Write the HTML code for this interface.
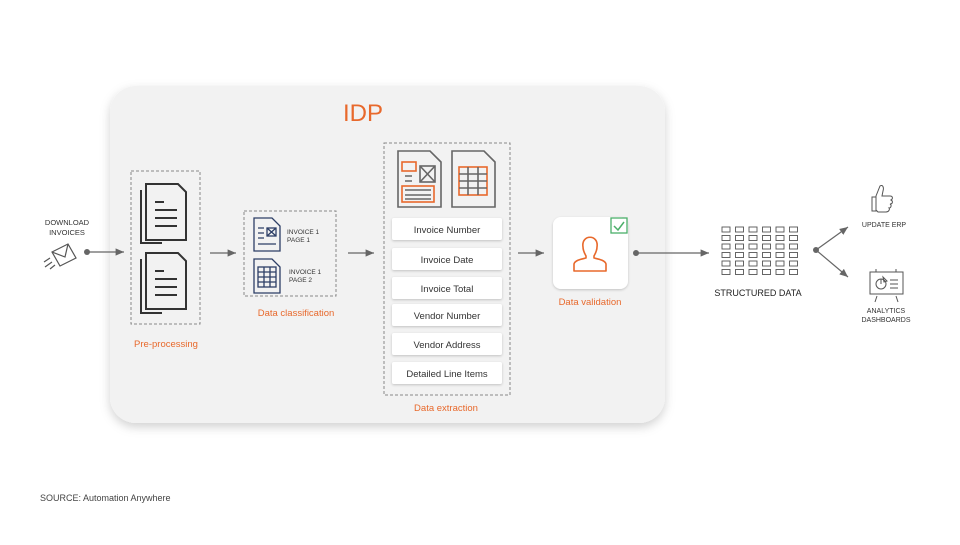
<!DOCTYPE html>
<html><head><style>
body{margin:0;width:960px;height:540px;background:#fff;overflow:hidden;font-family:"Liberation Sans",sans-serif}
</style></head><body>
<svg width="960" height="540" xmlns="http://www.w3.org/2000/svg" font-family="Liberation Sans, sans-serif">
<defs>
<filter id="sh" x="-10%" y="-10%" width="120%" height="130%"><feDropShadow dx="0" dy="4" stdDeviation="5" flood-color="#000" flood-opacity="0.18"/></filter>
<filter id="sh2" x="-10%" y="-20%" width="120%" height="160%"><feDropShadow dx="0" dy="1" stdDeviation="1.2" flood-color="#000" flood-opacity="0.2"/></filter>
<marker id="ar" markerWidth="8" markerHeight="8" refX="7" refY="4" orient="auto"><path d="M0,1 L7,4 L0,7z" fill="#666"/></marker>
</defs>
<rect x="110" y="86" width="555" height="337" rx="26" fill="#f2f2f2" filter="url(#sh)"/>
<text x="363" y="121" font-size="24" fill="#e8692c" text-anchor="middle">IDP</text>

<text x="67" y="225" font-size="7.5" fill="#333" text-anchor="middle">DOWNLOAD</text>
<text x="67" y="235" font-size="7.5" fill="#333" text-anchor="middle">INVOICES</text>
<g stroke="#555" stroke-width="1.2" fill="none">
<path d="M52,252 L68,244 L76,258 L60,266z M52,252 L65,257 L68,244"/>
<path d="M50,258 L44,262 M52,262 L45,267 M55,265 L50,269"/>
</g>
<circle cx="87" cy="252" r="3" fill="#666"/>
<line x1="87" y1="252" x2="124" y2="252" stroke="#666" stroke-width="1.2" marker-end="url(#ar)"/>

<rect x="131" y="171" width="69" height="153" fill="none" stroke="#888" stroke-dasharray="3,2"/>
<g stroke="#333" stroke-width="2" fill="none">
<path d="M141,190 V243 H162"/><path d="M146,184 H178 L186,192 V240 H146z"/>
<path d="M155,202 H164 M155,210 H177 M155,218 H177 M155,226 H177"/>
<path d="M141,259 V313 H162"/><path d="M146,253 H178 L186,261 V309 H146z"/>
<path d="M155,271 H164 M155,279 H177 M155,287 H177 M155,295 H177"/>
</g>
<text x="166" y="347" font-size="9.5" fill="#e8692c" text-anchor="middle">Pre-processing</text>
<line x1="210" y1="253" x2="236" y2="253" stroke="#666" stroke-width="1.2" marker-end="url(#ar)"/>

<rect x="244" y="211" width="92" height="85" fill="none" stroke="#888" stroke-dasharray="3,2"/>
<g stroke="#2c3e66" stroke-width="1.3" fill="none">
<path d="M254,218 H272 L280,226 V251 H254z"/>
<path d="M258,228 H264 M258,233 H264 M258,238 H264 M258,244 H276"/>
<rect x="267" y="228" width="9" height="8"/><path d="M267,228 L276,236 M276,228 L267,236"/>
<path d="M254,259 H272 L280,267 V293 H254z"/>
<rect x="258" y="267" width="18" height="20"/><path d="M264,267 V287 M270,267 V287 M258,272 H276 M258,277 H276 M258,282 H276"/>
</g>
<text x="287" y="234" font-size="6.5" fill="#333">INVOICE 1</text>
<text x="287" y="242" font-size="6.5" fill="#333">PAGE 1</text>
<text x="289" y="274" font-size="6.5" fill="#333">INVOICE 1</text>
<text x="289" y="282" font-size="6.5" fill="#333">PAGE 2</text>
<text x="296" y="316" font-size="9.5" fill="#e8692c" text-anchor="middle">Data classification</text>
<line x1="348" y1="253" x2="374" y2="253" stroke="#666" stroke-width="1.2" marker-end="url(#ar)"/>

<rect x="384" y="143" width="126" height="252" fill="none" stroke="#888" stroke-dasharray="3,2"/>
<g fill="none" stroke-width="1.6">
<path d="M398,151 H430 L441,162 V207 H398z" stroke="#666"/>
<rect x="402" y="162" width="14" height="9" stroke="#e8692c"/>
<rect x="420" y="166" width="15" height="16" stroke="#666"/><path d="M420,166 L435,182 M435,166 L420,182" stroke="#666"/>
<rect x="402" y="186" width="32" height="16" stroke="#e8692c"/>
<path d="M405,190 H431 M405,195 H431 M405,199 H431 M405,176 H412 M405,181 H412" stroke="#666"/>
<path d="M452,151 H484 L495,162 V207 H452z" stroke="#666"/>
<rect x="459" y="167" width="28" height="28" stroke="#e8692c"/>
<path d="M459,174 H487 M459,181 H487 M459,188 H487 M468,167 V195 M478,167 V195" stroke="#666"/>
</g>
<g font-size="9.5" fill="#333" text-anchor="middle">
<rect x="392" y="218" width="110" height="22" rx="2" fill="#fff" filter="url(#sh2)"/><text x="447" y="233">Invoice Number</text>
<rect x="392" y="248" width="110" height="22" rx="2" fill="#fff" filter="url(#sh2)"/><text x="447" y="263">Invoice Date</text>
<rect x="392" y="277" width="110" height="22" rx="2" fill="#fff" filter="url(#sh2)"/><text x="447" y="292">Invoice Total</text>
<rect x="392" y="304" width="110" height="22" rx="2" fill="#fff" filter="url(#sh2)"/><text x="447" y="319">Vendor Number</text>
<rect x="392" y="333" width="110" height="22" rx="2" fill="#fff" filter="url(#sh2)"/><text x="447" y="348">Vendor Address</text>
<rect x="392" y="362" width="110" height="22" rx="2" fill="#fff" filter="url(#sh2)"/><text x="447" y="377">Detailed Line Items</text>
</g>
<text x="446" y="411" font-size="9.5" fill="#e8692c" text-anchor="middle">Data extraction</text>
<line x1="518" y1="253" x2="544" y2="253" stroke="#666" stroke-width="1.2" marker-end="url(#ar)"/>

<rect x="553" y="217" width="75" height="72" rx="8" fill="#fff" filter="url(#sh2)"/>
<rect x="611" y="218" width="16" height="15" fill="#fff" stroke="#4caf6a" stroke-width="1.3"/>
<path d="M614,226 L618,230 L624,222" stroke="#4caf6a" stroke-width="1.5" fill="none"/>
<path d="M583,247 C581,234 599,234 597,247 C597,251 595,254 594,256 V258 C598,259 605,260 606,264 V271 H574 V264 C575,260 582,259 586,258 V256 C585,254 583,251 583,247z" fill="none" stroke="#e8692c" stroke-width="1.6" stroke-linejoin="round"/>
<text x="590" y="305" font-size="9.5" fill="#e8692c" text-anchor="middle">Data validation</text>
<circle cx="636" cy="253" r="3" fill="#666"/>
<line x1="636" y1="253" x2="709" y2="253" stroke="#666" stroke-width="1.2" marker-end="url(#ar)"/>

<g fill="none" stroke="#555" stroke-width="0.9">
<g id="row">
<rect x="722" y="227" width="8" height="5"/><rect x="735.5" y="227" width="8" height="5"/><rect x="749" y="227" width="8" height="5"/><rect x="762.5" y="227" width="8" height="5"/><rect x="776" y="227" width="8" height="5"/><rect x="789.5" y="227" width="8" height="5"/>
</g>
<use href="#row" y="8.5"/><use href="#row" y="17"/><use href="#row" y="25.5"/><use href="#row" y="34"/><use href="#row" y="42.5"/>
</g>
<text x="758" y="296" font-size="9" fill="#222" text-anchor="middle">STRUCTURED DATA</text>
<circle cx="816" cy="250" r="3" fill="#666"/>
<line x1="816" y1="250" x2="848" y2="227" stroke="#666" stroke-width="1.2" marker-end="url(#ar)"/>
<line x1="816" y1="250" x2="848" y2="277" stroke="#666" stroke-width="1.2" marker-end="url(#ar)"/>

<path d="M876,196 L880,186 C883,184 884,188 883,191 L882,196 H890 C893,196 893,199 891,200 C893,201 893,204 890,204 C892,205 891,208 889,208 C890,209 889,212 886,212 H878 L876,210z" fill="none" stroke="#555" stroke-width="1"/>
<rect x="872" y="197" width="4" height="14" fill="none" stroke="#555"/>
<text x="884" y="227" font-size="7" fill="#333" text-anchor="middle">UPDATE ERP</text>
<g fill="none" stroke="#555" stroke-width="1">
<rect x="870" y="272" width="33" height="22"/>
<circle cx="881" cy="284" r="5"/><path d="M881,284 V279 M883,277 L887,281 L884,282z"/>
<path d="M890,280 H898 M890,284 H898 M890,288 H898 M876,269 V272 M896,269 V272 M877,296 L875,302 M896,296 L898,302"/>
</g>
<text x="886" y="313" font-size="7" fill="#333" text-anchor="middle">ANALYTICS</text>
<text x="886" y="322" font-size="7" fill="#333" text-anchor="middle">DASHBOARDS</text>

<text x="40" y="501" font-size="9" fill="#444">SOURCE: Automation Anywhere</text>
</svg>
</body></html>
